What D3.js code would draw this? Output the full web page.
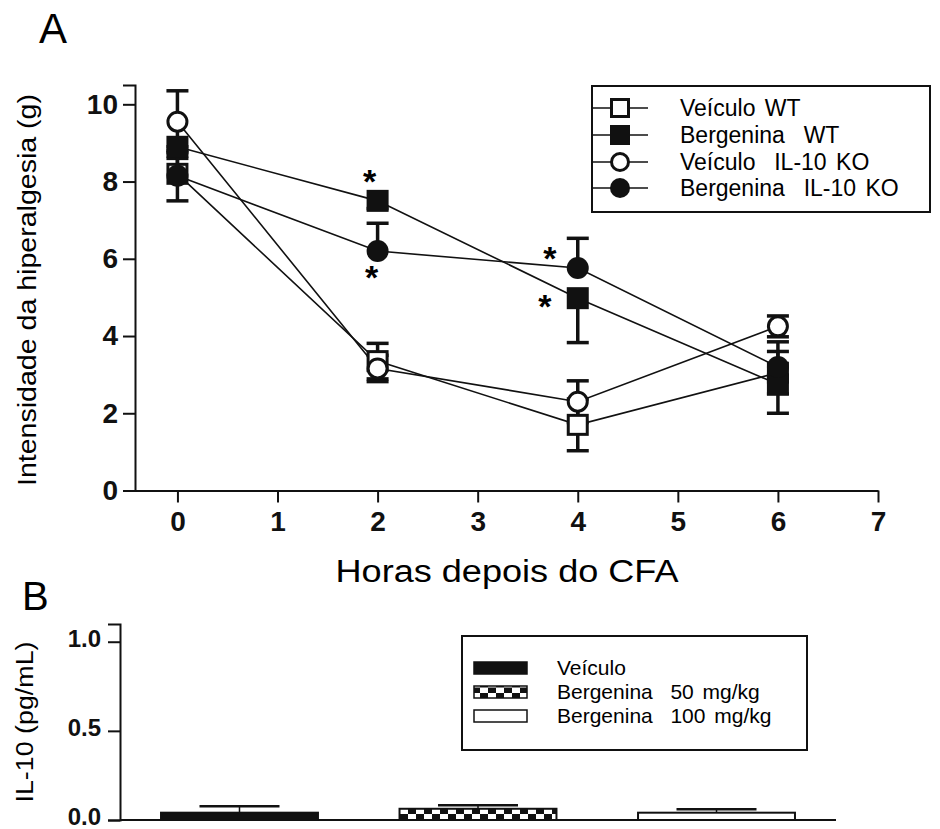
<!DOCTYPE html>
<html>
<head>
<meta charset="utf-8">
<script src="https://cdn.jsdelivr.net/npm/d3@7"></script>
<style>
  body { margin: 0; background: #fff; }
  svg { font-family: "Liberation Sans", Arial, sans-serif; }
</style>
</head>
<body>
<div class="fig"></div>
<script>
// ---------------- data: panel A ----------------
const hours = [0, 2, 4, 6];
const seriesNames = ["Veículo WT", "Bergenina  WT", "Veículo  IL-10 KO", "Bergenina  IL-10 KO"];
const veiculoWT      = [8.2, 3.35, 1.7, 3.05];
const bergeninaWT    = [8.9, 7.5, 4.98, 2.75];
const veiculoKO      = [9.55, 3.16, 2.3, 4.25];
const bergeninaKO    = [8.15, 6.2, 5.76, 3.2];
const semVeiculoWT   = [0.7, 0.46, 0.67, 0.55];
const semBergeninaWT = [0.3, 0.2, 1.15, 0.75];
const semVeiculoKO   = [0.8, 0.34, 0.54, 0.27];
const semBergeninaKO = [0.65, 0.72, 0.77, 0.65];
const errDirection   = ["both", "down", "both", "up"];
const xTicksA = [0, 1, 2, 3, 4, 5, 6, 7];
const yTicksA = [0, 2, 4, 6, 8, 10];
// significance stars: [series index, hour, side]
const stars = [[1, 2, "above"], [3, 2, "below"], [3, 4, "upleft"], [1, 4, "left"]];

// ---------------- data: panel B ----------------
const groupsB = ["Veículo", "Bergenina  50 mg/kg", "Bergenina  100 mg/kg"];
const il10    = [0.041, 0.063, 0.041];
const il10Sem = [0.036, 0.02, 0.02];
const yTicksB = [0, 0.5, 1.0];

const W = 940, H = 829;
const svg = d3.select(".fig").append("svg").attr("width", W).attr("height", H);

// checkered fill for the 50 mg/kg bar
const defs = svg.append("defs");
const pat = defs.append("pattern").attr("id", "checker")
    .attr("patternUnits", "userSpaceOnUse").attr("width", 16).attr("height", 11);
pat.append("rect").attr("width", 16).attr("height", 11).attr("fill", "#fff");
pat.append("rect").attr("x", 0).attr("y", 0).attr("width", 8).attr("height", 5.5).attr("fill", "#111");
pat.append("rect").attr("x", 8).attr("y", 5.5).attr("width", 8).attr("height", 5.5).attr("fill", "#111");

//******************** Panel A ********************
const xA = d3.scaleLinear().domain([-0.424, 7]).range([135, 878]);
const yA = d3.scaleLinear().domain([0, 10.5]).range([490.5, 85]);

svg.append("text").attr("x", 39).attr("y", 43).attr("font-size", 42).text("A");

const gA = svg.append("g");

gA.append("g").attr("class", "axis")
    .attr("transform", "translate(0,490.5)")
    .call(d3.axisBottom(xA).tickValues(xTicksA).tickSize(12).tickSizeOuter(0).tickPadding(9));

gA.append("g").attr("class", "axis")
    .attr("transform", "translate(135,0)")
    .call(d3.axisLeft(yA).tickValues(yTicksA).tickSize(12).tickSizeOuter(12).tickPadding(5));

svg.selectAll(".axis path, .axis line").attr("stroke", "#111").attr("stroke-width", 2);
svg.selectAll(".axis text").attr("font-size", 28).attr("font-weight", "bold")
    .attr("font-family", "'Liberation Sans', Arial, sans-serif").attr("fill", "#111");

gA.append("text")
    .attr("transform", "translate(36,290) rotate(-90)")
    .attr("text-anchor", "middle").attr("font-size", 25)
    .attr("textLength", 392).attr("lengthAdjust", "spacingAndGlyphs")
    .text("Intensidade da hiperalgesia (g)");

gA.append("text").attr("x", 507).attr("y", 582)
    .attr("text-anchor", "middle").attr("font-size", 31)
    .attr("textLength", 343).attr("lengthAdjust", "spacingAndGlyphs")
    .text("Horas depois do CFA");

const seriesVals = [veiculoWT, bergeninaWT, veiculoKO, bergeninaKO];
const seriesSem = [semVeiculoWT, semBergeninaWT, semVeiculoKO, semBergeninaKO];
const shapes = ["square", "square", "circle", "circle"];
const filled = [false, true, false, true];

const series = seriesVals.map((vals, i) => ({
    name: seriesNames[i], shape: shapes[i], filled: filled[i], dir: errDirection[i],
    pts: vals.map((v, j) => ({t: hours[j], v: v, e: seriesSem[i][j]}))
}));

const line = d3.line().x(d => xA(d.t)).y(d => yA(d.v));
gA.selectAll(".sline").data(series).enter().append("path")
    .attr("class", "sline").attr("d", d => line(d.pts))
    .attr("fill", "none").attr("stroke", "#111").attr("stroke-width", 1.6);

// error bars (one-sided where the other side is hidden in the original)
series.forEach(s => {
    s.pts.forEach(p => {
        const lo = s.dir === "up" ? p.v : p.v - p.e;
        const hi = s.dir === "down" ? p.v : p.v + p.e;
        const cx = xA(p.t);
        gA.append("line").attr("x1", cx).attr("x2", cx).attr("y1", yA(lo)).attr("y2", yA(hi))
            .attr("stroke", "#111").attr("stroke-width", 3.5);
        if (s.dir !== "down") gA.append("line").attr("x1", cx - 11).attr("x2", cx + 11)
            .attr("y1", yA(hi)).attr("y2", yA(hi)).attr("stroke", "#111").attr("stroke-width", 3.5);
        if (s.dir !== "up") gA.append("line").attr("x1", cx - 11).attr("x2", cx + 11)
            .attr("y1", yA(lo)).attr("y2", yA(lo)).attr("stroke", "#111").attr("stroke-width", 3.5);
    });
});

function drawMarker(g, shape, isFilled, cx, cy, size) {
    if (shape === "square") {
        const s = isFilled ? size : size - 3;
        g.append("rect").attr("x", cx - s / 2).attr("y", cy - s / 2).attr("width", s).attr("height", s)
            .attr("fill", isFilled ? "#111" : "#fff").attr("stroke", "#111")
            .attr("stroke-width", isFilled ? 0 : 3);
    } else {
        const r = isFilled ? size / 2 : size / 2 - 1.5;
        g.append("circle").attr("cx", cx).attr("cy", cy).attr("r", r)
            .attr("fill", isFilled ? "#111" : "#fff").attr("stroke", "#111")
            .attr("stroke-width", isFilled ? 0 : 3);
    }
}

series.forEach(s => {
    s.pts.forEach(p => drawMarker(gA, s.shape, s.filled, xA(p.t), yA(p.v), 22));
});

// stars
const starOffset = {above: [-8, -27], below: [-6, 19], upleft: [-28, -17], left: [-33, 1]};
stars.forEach(([si, t, side]) => {
    const v = seriesVals[si][hours.indexOf(t)];
    const o = starOffset[side];
    gA.append("text").attr("x", xA(t) + o[0]).attr("y", yA(v) + o[1] + 19)
        .attr("text-anchor", "middle").attr("font-size", 34).attr("font-weight", "bold")
        .text("*");
});

// legend A
const legA = svg.append("g");
legA.append("rect").attr("x", 592).attr("y", 86).attr("width", 338).attr("height", 126)
    .attr("fill", "#fff").attr("stroke", "#111").attr("stroke-width", 2);
const legRowsA = [108, 135, 162, 188];
series.forEach((s, i) => {
    const y = legRowsA[i];
    legA.append("line").attr("x1", 592).attr("x2", 648).attr("y1", y).attr("y2", y)
        .attr("stroke", "#111").attr("stroke-width", 1.6);
    drawMarker(legA, s.shape, s.filled, 620, y, 20);
    legA.append("text").attr("x", 680).attr("y", y + 8).attr("font-size", 23)
        .attr("word-spacing", 3)
        .style("white-space", "pre").text(s.name);
});

//******************** Panel B ********************
svg.append("text").attr("x", 22).attr("y", 610).attr("font-size", 40).text("B");

const yB = d3.scaleLinear().domain([0, 1.1]).range([820, 623.9]);
const xB = d3.scaleBand().domain(groupsB).range([120, 836]).paddingInner(0.342).paddingOuter(0.172);
const gB = svg.append("g");

gB.append("g").attr("class", "axisB")
    .attr("transform", "translate(120,0)")
    .call(d3.axisLeft(yB).tickValues(yTicksB).tickFormat(d3.format(".1f"))
        .tickSize(12).tickSizeOuter(12).tickPadding(7));
gB.append("line").attr("x1", 120).attr("x2", 836).attr("y1", 820).attr("y2", 820)
    .attr("stroke", "#111").attr("stroke-width", 2);
svg.selectAll(".axisB path, .axisB line").attr("stroke", "#111").attr("stroke-width", 2);
svg.selectAll(".axisB text").attr("font-size", 24).attr("font-weight", "bold")
    .attr("font-family", "'Liberation Sans', Arial, sans-serif").attr("fill", "#111")
    .attr("dy", "0.18em");

gB.append("text")
    .attr("transform", "translate(33,722) rotate(-90)")
    .attr("text-anchor", "middle").attr("font-size", 23)
    .attr("textLength", 161).attr("lengthAdjust", "spacingAndGlyphs")
    .text("IL-10 (pg/mL)");

const fillsB = ["#111", "url(#checker)", "#fff"];
gB.selectAll(".bar").data(groupsB).enter().append("rect")
    .attr("class", "bar")
    .attr("x", d => xB(d)).attr("width", xB.bandwidth())
    .attr("y", (d, i) => yB(il10[i])).attr("height", (d, i) => yB(0) - yB(il10[i]))
    .attr("fill", (d, i) => fillsB[i]).attr("stroke", "#111").attr("stroke-width", 2);

groupsB.forEach((g, i) => {
    const cx = xB(g) + xB.bandwidth() / 2;
    const top = yB(il10[i] + il10Sem[i]);
    gB.append("line").attr("x1", cx).attr("x2", cx).attr("y1", yB(il10[i])).attr("y2", top)
        .attr("stroke", "#111").attr("stroke-width", 1.5);
    gB.append("line").attr("x1", cx - 40).attr("x2", cx + 40).attr("y1", top).attr("y2", top)
        .attr("stroke", "#111").attr("stroke-width", 2.5);
});

// legend B
const legB = svg.append("g");
legB.append("rect").attr("x", 462).attr("y", 636).attr("width", 345).attr("height", 114)
    .attr("fill", "#fff").attr("stroke", "#111").attr("stroke-width", 2);
const legRowsB = [668, 692, 716];
groupsB.forEach((g, i) => {
    const y = legRowsB[i];
    legB.append("rect").attr("x", 474).attr("y", y - 6).attr("width", 53).attr("height", 12)
        .attr("fill", fillsB[i]).attr("stroke", "#111").attr("stroke-width", 1.5);
    legB.append("text").attr("x", 557).attr("y", y + 7).attr("font-size", 21)
        .attr("word-spacing", 3)
        .style("white-space", "pre").text(g);
});
</script>
</body>
</html>
